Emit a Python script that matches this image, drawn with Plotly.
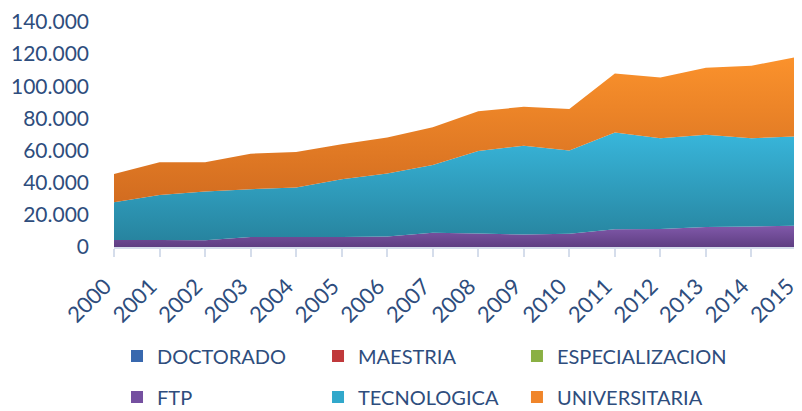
import plotly.graph_objects as go

years = [2000, 2001, 2002, 2003, 2004, 2005, 2006, 2007, 2008, 2009, 2010, 2011, 2012, 2013, 2014, 2015]
y_ticks = [0, 20000, 40000, 60000, 80000, 100000, 120000, 140000]
y_tick_labels = ["0", "20.000", "40.000", "60.000", "80.000", "100.000", "120.000", "140.000"]

doctorado = [0, 0, 0, 0, 0, 0, 0, 0, 0, 0, 0, 0, 0, 0, 0, 0]
maestria = [0, 0, 0, 0, 0, 0, 0, 0, 0, 0, 0, 0, 0, 0, 0, 0]
especializacion = [0, 0, 0, 0, 0, 0, 0, 0, 0, 0, 0, 0, 0, 0, 0, 0]
ftp = [4300, 4300, 4200, 6300, 6300, 6300, 6500, 8800, 8400, 7800, 8200, 11000, 11200, 12500, 12700, 13300]
tecnologica = [23500, 28000, 30400, 29700, 30700, 35900, 39300, 42200, 51300, 55200, 51800, 60200, 56500, 57300, 55000, 55500]
universitaria = [17600, 20500, 18200, 22100, 22100, 21700, 22300, 23500, 24800, 24200, 25800, 36700, 37700, 41700, 45100, 49500]

series = [
    ("DOCTORADO", doctorado, "#2A5B9E", "#4A7CC4", "#3868AE"),
    ("MAESTRIA", maestria, "#A8302F", "#D04442", "#C0393B"),
    ("ESPECIALIZACION", especializacion, "#77983A", "#9CC24E", "#8AB043"),
    ("FTP", ftp, "#5E3E82", "#8159AA", "#7550A0"),
    ("TECNOLOGICA", tecnologica, "#27849F", "#38B6DB", "#31A8CB"),
    ("UNIVERSITARIA", universitaria, "#D26C20", "#FB922C", "#F0852A"),
]

fig = go.Figure()
cum = [0] * len(years)
for name, vals, dark, light, mid in series:
    lower = list(cum)
    cum = [a + b for a, b in zip(cum, vals)]
    fig.add_trace(go.Scatter(
        x=years, y=vals, name=name, stackgroup="one", mode="none",
        fillgradient=dict(type="vertical", colorscale=[[0, dark], [1, light]],
                          start=min(lower), stop=max(cum) if max(cum) > min(lower) else min(lower) + 1),
        fillcolor=mid, showlegend=False, hoverinfo="x+y+name",
    ))

font_family = "Lato, 'Liberation Sans', Arial, sans-serif"
text_color = "#2E4D7D"

# legend: three columns of two entries (row 1: first three series, row 2: last three)
legend_ids = ["legend", "legend2", "legend3"]
for i, (name, vals, dark, light, mid) in enumerate(series):
    fig.add_trace(go.Scatter(
        x=[None], y=[None], mode="markers", name=name,
        marker=dict(symbol="square", size=13, color=mid, line=dict(width=0)),
        legend=legend_ids[i % 3], legendgroup=name, showlegend=True,
    ))

legend_common = dict(
    orientation="v", xanchor="left", yanchor="top", y=-0.398,
    traceorder="grouped", tracegroupgap=12,
    font=dict(family=font_family, size=20, color=text_color),
    itemsizing="constant",
    bgcolor="rgba(0,0,0,0)", itemclick=False, itemdoubleclick=False,
)

# page body has an 8px default margin: the figure is sized to fit the 802x411 window
fig.update_layout(
    width=794, height=403,
    margin=dict(l=106, r=5, t=14, b=164, autoexpand=False),
    paper_bgcolor="white", plot_bgcolor="white",
    font=dict(family=font_family, size=20, color=text_color),
    xaxis=dict(
        range=[2000, 2015], tickmode="array", tickvals=years,
        ticktext=[str(y) for y in years], tickangle=-45,
        showgrid=False, zeroline=False, showline=True, linecolor="#D5DDEB", linewidth=1.5,
        ticks="outside", ticklen=8, tickcolor="#D5DDEB", tickwidth=1.5,
        ticklabeloverflow="allow", ticklabelstandoff=8, ticklabelshift=-9,
        tickfont=dict(family=font_family, size=22, color=text_color),
    ),
    yaxis=dict(
        range=[0, 140000], tickmode="array", tickvals=y_ticks, ticktext=y_tick_labels,
        showgrid=False, zeroline=False, showline=False, ticks="",
        ticklabeloverflow="allow", ticklabelstandoff=24,
        tickfont=dict(family=font_family, size=21, color=text_color),
    ),
    legend=dict(legend_common, x=0.0044),
    legend2=dict(legend_common, x=0.2987),
    legend3=dict(legend_common, x=0.590),
)

fig.write_html("out.html")
